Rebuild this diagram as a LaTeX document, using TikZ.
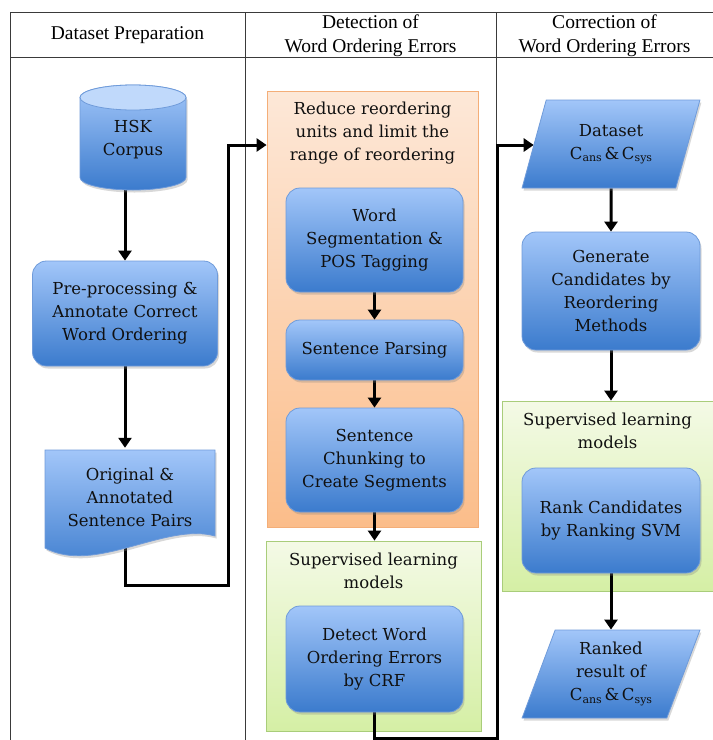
\documentclass[tikz,border=0pt]{standalone}
\usepackage{fontspec}
\setmainfont{Liberation Serif}
\newfontfamily\boxfont{DejaVu Serif}
\usetikzlibrary{arrows.meta,shapes.geometric,shadows}
\pgfdeclarelayer{bg}\pgfdeclarelayer{conn}
\pgfsetlayers{bg,conn,main}
\definecolor{bluetop}{HTML}{A2C6F9}
\definecolor{bluebot}{HTML}{3B7BCD}
\definecolor{blueedge}{HTML}{6F9BDA}
\definecolor{bluecap}{HTML}{C0D9FB}
\definecolor{orgtop}{HTML}{FDE8D8}
\definecolor{orgbot}{HTML}{FBBD8A}
\definecolor{orgedge}{HTML}{F4AE78}
\definecolor{grntop}{HTML}{F4FAE6}
\definecolor{grnbot}{HTML}{D5EFA5}
\definecolor{grnedge}{HTML}{A9CD7A}
\definecolor{gridline}{HTML}{3A3A3A}
\definecolor{txt}{HTML}{101010}
\newcommand{\subs}[1]{\raisebox{-2.5pt}{\fontsize{11}{10}\selectfont #1}}
\tikzset{
  bfont/.style={font=\boxfont\fontsize{16.5}{23}\selectfont, text=txt},
  shade/.style={drop shadow={opacity=0.3, shadow xshift=1.5pt, shadow yshift=-2.5pt}},
  bluebox/.style={rectangle, rounded corners=14pt, draw=blueedge, line width=0.8pt,
    top color=bluetop, bottom color=bluebot, align=center, bfont, shade, inner sep=0pt},
  para/.style={trapezium, trapezium left angle=69, trapezium right angle=111,
    trapezium stretches=true, draw=blueedge, line width=0.8pt,
    top color=bluetop, bottom color=bluebot, align=center, bfont, shade, inner sep=0pt},
  ghost/.style={rectangle, align=center, bfont, inner sep=0pt},
  orggroup/.style={rectangle, draw=orgedge, line width=0.8pt, top color=orgtop, bottom color=orgbot},
  grngroup/.style={rectangle, draw=grnedge, line width=0.8pt, top color=grntop, bottom color=grnbot},
  gtitle/.style={align=center, bfont, inner sep=0pt},
  head/.style={align=center, font=\fontsize{19.5}{24}\selectfont, inner sep=0pt},
  grid/.style={draw=gridline, line width=0.9pt},
  arr/.style={line width=3pt, line join=miter, -{Triangle[length=10pt,width=13pt]}}
}
\begin{document}
\begin{tikzpicture}[x=1pt,y=-1pt]
\useasboundingbox (0,0) rectangle (713,740);

% ---- table ----
\begin{pgfonlayer}{bg}
\fill[white] (0,0) rectangle (713,740);
\draw[grid] (10,12) -- (713,12);
\draw[grid] (10,57) -- (713,57);
\draw[grid] (10,12) -- (10,740);
\draw[grid] (245,12) -- (245,740);
\draw[grid] (496,12) -- (496,740);
\end{pgfonlayer}
\node[head] (h1) at (127.5,35) {Dataset Preparation};
\node[head] (h2) at (370.5,36) {Detection of\\Word Ordering Errors};
\node[head] (h3) at (604.5,36) {Correction of\\Word Ordering Errors};

% ---- groups ----
\begin{pgfonlayer}{bg}
\node[orggroup, minimum width=211pt, minimum height=436pt] (reduce) at (372.5,309) {};
\node[grngroup, minimum width=215pt, minimum height=190pt] (sup1) at (373.5,636) {};
\node[grngroup, minimum width=212pt, minimum height=190pt] (sup2) at (608,496) {};
\end{pgfonlayer}
\node[gtitle] (reducetitle) at (372.5,133) {Reduce reordering\\units and limit the\\range of reordering};
\node[gtitle] (sup1title) at (373.5,571) {Supervised learning\\models};
\node[gtitle] (sup2title) at (607.5,431) {Supervised learning\\models};

% ---- left column ----
\path[shade, draw=blueedge, line width=0.8pt, top color=bluetop, bottom color=bluebot]
  (80,97.5) -- (80,177.5) arc[start angle=180,end angle=360,x radius=53pt,y radius=12.5pt]
  -- (186,97.5) arc[start angle=0,end angle=180,x radius=53pt,y radius=12.5pt] -- cycle;
\draw[blueedge, line width=0.8pt, fill=bluecap] (133,97.5) ellipse[x radius=53pt, y radius=12.5pt];
\node[ghost, minimum width=106pt, minimum height=100pt] (hsk) at (133,140) {HSK\\Corpus};

\node[bluebox, minimum width=185pt, minimum height=105pt] (pre) at (125,313.5)
  {Pre-processing \&\\Annotate Correct\\Word Ordering};

\path[shade, draw=blueedge, line width=0.8pt, top color=bluetop, bottom color=bluebot]
  (45,450) -- (215,450) -- (215,536) .. controls (165,522) and (95,575) .. (45,548) -- cycle;
\node[ghost, minimum width=170pt, minimum height=98pt] (orig) at (130,497)
  {Original \&\\Annotated\\Sentence Pairs};

% ---- middle column ----
\node[bluebox, minimum width=177pt, minimum height=104pt] (seg) at (374.5,240)
  {Word\\Segmentation \&\\POS Tagging};
\node[bluebox, minimum width=177pt, minimum height=60pt] (parse) at (374.5,350)
  {Sentence Parsing};
\node[bluebox, minimum width=177pt, minimum height=104pt] (chunk) at (374.5,460)
  {Sentence\\Chunking to\\Create Segments};
\node[bluebox, minimum width=177pt, minimum height=106pt] (detect) at (374.5,659)
  {Detect Word\\Ordering Errors\\by CRF};

% ---- right column ----
\node[para, minimum width=178pt, minimum height=88pt] (dataset) at (611,144)
  {Dataset\\C\subs{ans}\,\&\,C\subs{sys}};
\node[bluebox, minimum width=178pt, minimum height=118pt] (gen) at (611,291)
  {Generate\\Candidates by\\Reordering\\Methods};
\node[bluebox, minimum width=178pt, minimum height=105pt] (rank) at (611,520.5)
  {Rank Candidates\\by Ranking SVM};
\node[para, minimum width=178pt, minimum height=88pt] (ranked) at (611,674)
  {Ranked\\result of\\C\subs{ans}\,\&\,C\subs{sys}};

% ---- connectors ----
\coordinate (j1) at (228,585);
\coordinate (j2) at (228,145);
\coordinate (j3) at (497,738);
\coordinate (j4) at (497,145);
\begin{pgfonlayer}{conn}
\draw[arr] (hsk.south -| pre.north) -- (pre.north);
\draw[arr] (pre.south) -- (pre.south |- orig.north);
\draw[arr] (pre.south |- orig.south) -- (pre.south |- j1) -- (j1) -- (j2) -- (j2 -| reduce.west);
\draw[arr] (seg.south) -- (parse.north);
\draw[arr] (parse.south) -- (chunk.north);
\draw[arr] (chunk.south) -- (chunk.south |- sup1.north);
\draw[arr] (detect.south) -- (detect.south |- j3) -- (j3) -- (j4) -- (j4 -| dataset.west);
\draw[arr] (dataset.south) -- (gen.north);
\draw[arr] (gen.south) -- (gen.south |- sup2.north);
\draw[arr] (rank.south) -- (rank.south |- ranked.north);
\end{pgfonlayer}
\end{tikzpicture}
\end{document}
